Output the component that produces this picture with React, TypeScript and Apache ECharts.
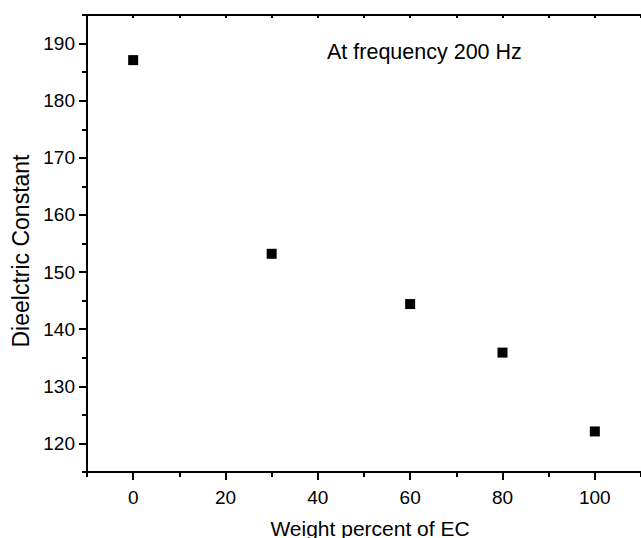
import React, { useEffect, useRef } from "react";
import * as echarts from "echarts";

const weightPercent = [0, 30, 60, 80, 100];
const dielectric = [187.1, 153.2, 144.4, 135.9, 122.1];
const xTickValues = [0, 20, 40, 60, 80, 100];
const yTickValues = [120, 130, 140, 150, 160, 170, 180, 190];
const xTitle = "Weight percent of EC";
const yTitle = "Dieelctric Constant";
const note = "At frequency 200 Hz";

const FONT = "'Liberation Sans', Arial, sans-serif";

export default function App() {
  const ref = useRef<HTMLDivElement>(null);
  useEffect(() => {
    if (!ref.current) return;
    const chart = echarts.init(ref.current, undefined, { renderer: "svg" });
    const gridPos = { left: 87, top: 15, width: 563, height: 457 };
    const line = { color: "#000", width: 2 };
    chart.setOption({
      animation: false,
      backgroundColor: "#fff",
      grid: [
        { ...gridPos, containLabel: false },
        { ...gridPos, containLabel: false },
      ],
      xAxis: [
        {
          type: "value",
          gridIndex: 0,
          position: "bottom",
          min: -10,
          max: 110,
          axisLine: { show: true, onZero: false, lineStyle: line },
          axisTick: { show: true, customValues: xTickValues, length: 8, inside: false, lineStyle: line },
          axisLabel: { customValues: xTickValues, fontSize: 19, color: "#000", fontFamily: FONT, margin: 16 },
          splitLine: { show: false },
        },
        {
          type: "value",
          gridIndex: 0,
          position: "top",
          min: -10,
          max: 110,
          interval: 10,
          axisLine: { show: true, onZero: false, lineStyle: line },
          axisTick: { show: true, length: 3, inside: true, lineStyle: line },
          axisLabel: { show: false },
          splitLine: { show: false },
        },
        {
          type: "value",
          gridIndex: 1,
          position: "bottom",
          min: -10,
          max: 110,
          interval: 10,
          axisLine: { show: false, onZero: false },
          axisTick: { show: true, length: 5, inside: false, lineStyle: line },
          axisLabel: { show: false },
          splitLine: { show: false },
        },
      ],
      yAxis: [
        {
          type: "value",
          gridIndex: 0,
          position: "left",
          min: 115,
          max: 195,
          axisLine: { show: true, onZero: false, lineStyle: line },
          axisTick: { show: true, customValues: yTickValues, length: 8, inside: false, lineStyle: line },
          axisLabel: { customValues: yTickValues, fontSize: 19, color: "#000", fontFamily: FONT, margin: 12 },
          splitLine: { show: false },
        },
        {
          type: "value",
          gridIndex: 1,
          position: "left",
          min: 115,
          max: 195,
          interval: 5,
          axisLine: { show: false, onZero: false },
          axisTick: { show: true, length: 5, inside: false, lineStyle: line },
          axisLabel: { show: false },
          splitLine: { show: false },
        },
      ],
      graphic: [
        {
          type: "text",
          x: 327,
          y: 52,
          style: { text: note, font: `21.5px ${FONT}`, fill: "#000", align: "left", verticalAlign: "middle" },
        },
        {
          type: "text",
          x: 370,
          y: 528,
          style: { text: xTitle, font: `21px ${FONT}`, fill: "#000", align: "center", verticalAlign: "middle" },
        },
        {
          type: "text",
          x: 21,
          y: 251,
          rotation: Math.PI / 2,
          style: { text: yTitle, font: `23px ${FONT}`, fill: "#000", align: "center", verticalAlign: "middle" },
        },
      ],
      series: [
        {
          type: "scatter",
          xAxisIndex: 0,
          yAxisIndex: 0,
          symbol: "rect",
          symbolSize: 10,
          itemStyle: { color: "#000", opacity: 1 },
          data: weightPercent.map((x, i) => [x, dielectric[i]]),
        },
      ],
    });
    return () => chart.dispose();
  }, []);
  return (
    <div
      ref={ref}
      style={{ position: "fixed", left: 0, top: 0, width: 641, height: 538, background: "#fff" }}
    />
  );
}
